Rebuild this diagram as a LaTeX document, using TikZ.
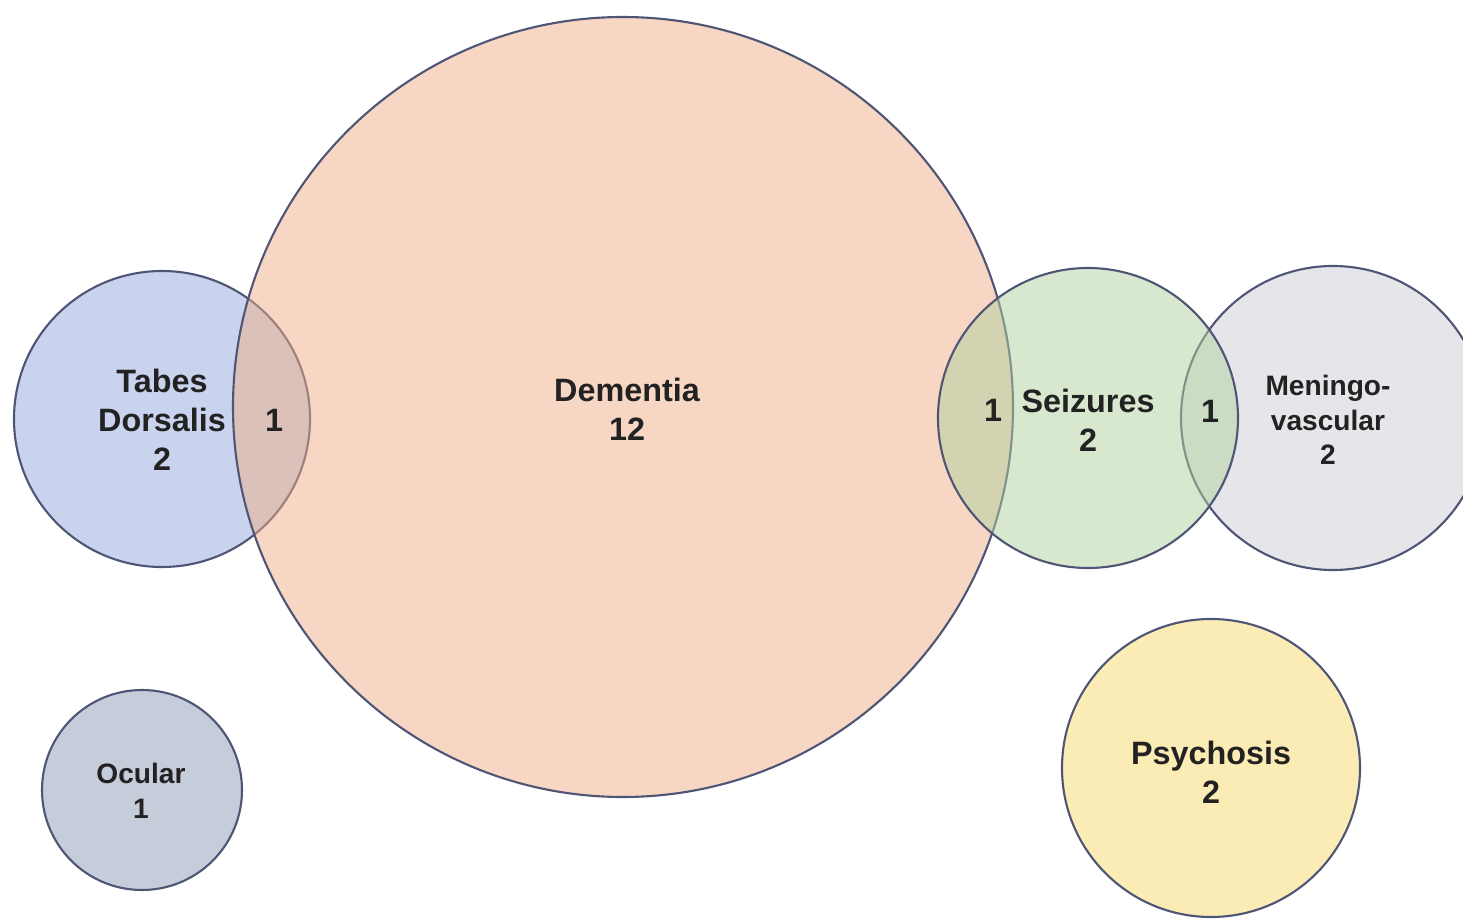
\documentclass[tikz,border=0pt]{standalone}
\usepackage{fontspec}
\setmainfont{Liberation Sans}
\usetikzlibrary{positioning}

\definecolor{edgec}{HTML}{4E5575}
\definecolor{txtc}{HTML}{222222}
\definecolor{dementiac}{HTML}{EFAD87}
\definecolor{tabesc}{HTML}{93A7DD}
\definecolor{seizc}{HTML}{B1D19F}
\definecolor{meningc}{HTML}{CDCDD5}
\definecolor{ocularc}{HTML}{8B99B5}
\definecolor{psychc}{HTML}{F7D76B}

\tikzset{
  set/.style={circle, draw=edgec, line width=0.6pt, fill opacity=0.5, inner sep=0pt, outer sep=0pt},
  lbl/.style={align=center, text=txtc, font=\fontsize{9.2}{11.1}\selectfont\bfseries},
  small/.style={lbl, font=\fontsize{8}{9.9}\selectfont\bfseries}
}

\begin{document}
\begin{tikzpicture}
\useasboundingbox (0,0) rectangle (14.63,9.2);
% Define sets
% Overlapping row
\node[set, fill=tabesc, minimum size=2.96cm] (tabes) at (1.62,5.01) {};
\node[set, fill=dementiac, minimum size=7.8cm] (dementia) at (6.23,5.13) {};
\node[set, fill=meningc, minimum size=3.04cm] (mening) at (13.33,5.02) {};
\node[set, fill=seizc, minimum size=3.0cm] (seiz) at (10.88,5.02) {};
% Lone sets
\node[set, fill=ocularc, minimum size=2.0cm] (ocular) at (1.42,1.30) {};
\node[set, fill=psychc, minimum size=2.98cm] (psych) at (12.11,1.52) {};

% Labels
\node[lbl] (tabesl) at (tabes.center) [yshift=-0.01cm] {Tabes\\Dorsalis\\2};
\node[lbl] (demential) at (6.27,5.11) {Dementia\\12};
\node[lbl] (seizl) at (10.88,5.00) {Seizures\\2};
\node[small] (meningl) at (13.28,5.00) {Meningo-\\vascular\\2};
\node[small] (ocularl) at (1.41,1.29) {Ocular\\1};
\node[lbl] (psychl) at (12.11,1.48) {Psychosis\\2};

% Overlap counts
\node[lbl] (td) at (2.74,5.00) {1};
\node[lbl] (ds) at (9.93,5.10) {1};
\node[lbl] (sm) at (12.10,5.09) {1};
\end{tikzpicture}
\end{document}
